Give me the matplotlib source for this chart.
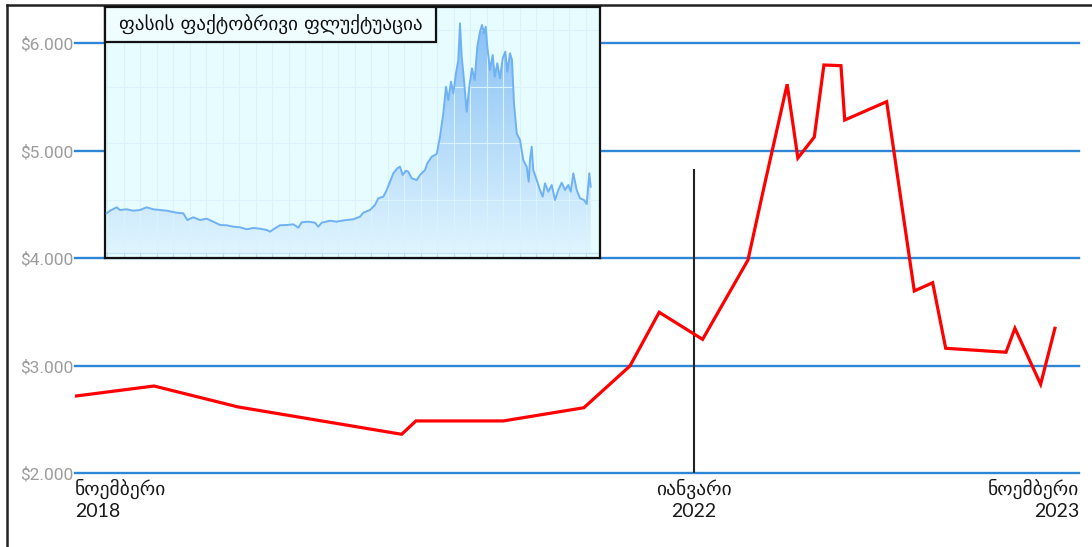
import numpy as np
import matplotlib
matplotlib.use("Agg")
import matplotlib.pyplot as plt
from matplotlib.lines import Line2D
from matplotlib.patches import Rectangle
from matplotlib.colors import LinearSegmentedColormap

# ---- main series: price, months counted from November 2018 ----
months = [0, 4.80, 9.98, 20.03, 20.91, 26.28, 31.24, 34.07, 35.87, 38.54,
          41.33, 42.25, 43.74, 44.40, 45.41, 46.00, 47.05, 47.28, 49.86,
          51.56, 52.69, 53.49, 57.20, 57.75, 59.33, 60.21]
price = [2719, 2812, 2617, 2363, 2487, 2487, 2610, 2998, 3498, 3246,
         3984, 4617, 5619, 4933, 5128, 5798, 5792, 5286, 5457,
         3696, 3773, 3163, 3126, 3349, 2828, 3349]

y_ticks = [2000, 3000, 4000, 5000, 6000]
y_labels = ["$2.000", "$3.000", "$4.000", "$5.000", "$6.000"]
x_labels = ["ნოემბერი\n2018", "იანვარი\n2022", "ნოემბერი\n2023"]
jan_2022 = 38
marker_top = 4821

# ---- inset series: daily fluctuation (relative units) ----
inset_t = [1.7, 5, 11.7, 15, 21.7, 28.3, 35, 41.7, 48.3, 55, 61.7, 71.7, 78.3,
           82.3, 88.3, 95, 101.7, 108.3, 115, 121.7, 128.3, 135, 141.7, 148.3,
           155, 161.7, 165, 170, 175, 181.7, 188.3, 193.3, 196.7, 203.3, 210,
           213.3, 216.7, 225, 231.7, 235, 241.7, 248.3, 255, 258.3, 265, 270,
           273.3, 278.3, 281.7, 285, 288.3, 292.3, 295, 297.7, 301, 303.3,
           306.7, 311.7, 315, 320, 322.3, 326.7, 331.7, 335, 338.3, 341, 343.3,
           346, 348.3, 351, 353.3, 355, 356.7, 359, 361.7, 364.3, 367, 369.7,
           372.3, 375, 377, 379, 380.7, 382.3, 385, 387.7, 389.7, 392.3, 395,
           397.7, 400.3, 402.3, 405, 407, 409, 411.7, 415, 418.3, 421.7, 423.7,
           425, 426.7, 428.3, 431.7, 435, 437.7, 440, 443.3, 446.7, 450, 453.3,
           456.7, 460, 463.3, 465.7, 468.3, 471.7, 475, 479, 481.7, 484.3, 485.7]
inset_v = [44.7, 47.3, 50.7, 48, 48.7, 47.3, 48, 50.7, 48.7, 48, 47.3, 45.3, 44.7,
           38, 40.7, 38, 39.3, 36.3, 33, 32.7, 31.3, 30.7, 28.7, 30,
           29.3, 28, 26.3, 29.7, 32.7, 33, 33.7, 30.3, 35.7, 36.3, 35.3,
           31.3, 35.3, 37.3, 36.3, 37, 38, 38.7, 41.3, 45.3, 48, 53,
           59.7, 61.3, 68, 76.3, 84.7, 89.7, 91.3, 83, 87.3, 86.3,
           79.7, 78, 83, 88, 94.7, 101.3, 104, 121.3, 144.7, 171.3, 158,
           176.3, 164.7, 184.7, 198, 234.7, 201.3, 178, 146.3, 171.3, 189.7, 178,
           211.3, 226.3, 233, 224.7, 231.3, 211.3, 188, 203, 181.3, 194.7, 179.7,
           199.7, 206.3, 186.3, 204.7, 198, 154.7, 124.7, 118, 98, 91.3, 76.3,
           98, 111.3, 88, 78, 68, 61.3, 74.7, 66.3, 73, 58, 68,
           75.3, 68, 73, 66.3, 84.7, 68, 59.7, 58, 54, 84.7, 71.3]
inset_title = "ფასის ფაქტობრივი ფლუქტუაცია"

W, H = 1092, 547
fig = plt.figure(figsize=(W / 100, H / 100), dpi=100)
fig.patch.set_facecolor("white")


def fx(px):
    return px / W


def fy(py):
    return (H - py) / H


# ---- main axes ----
ax = fig.add_axes([fx(75), fy(473.3), fx(1079) - fx(75), fy(43.3) - fy(473.3)])
ax.set_xlim(-0.06, 61.69)
ax.set_ylim(2000, 6000)
for s in ax.spines.values():
    s.set_visible(False)
for yv in y_ticks:
    ax.axhline(yv, color="#2f86d6", lw=1.7, zorder=1, clip_on=False)
ax.set_yticks(y_ticks)
ax.set_yticklabels(y_labels, fontfamily="Roboto", fontsize=12.5, color="#9c9c9c")
ax.tick_params(axis="y", length=0, pad=1.5)

xl = ax.get_xlim()
ax.set_xticks([xl[0], jan_2022, xl[1]])
ax.set_xticklabels(x_labels, fontfamily=["Lato", "DejaVu Sans"], fontsize=14,
                   color="#1a1a1a", linespacing=1.3)
ax.tick_params(axis="x", length=0, pad=4)
for lab, ha in zip(ax.get_xticklabels(), ["left", "center", "right"]):
    lab.set_ha(ha)
    lab.set_multialignment(ha)

ax.plot(months, price, color="#ff0000", lw=2.3, solid_joinstyle="miter", zorder=3)
ax.plot([jan_2022, jan_2022], [2000, marker_top], color="#222222", lw=1.5, zorder=2)

# ---- inset chart ----
ins = fig.add_axes([fx(105), fy(258), fx(600) - fx(105), fy(7) - fy(258)])
ins.set_zorder(5)
ins.set_xlim(0, 495)
ins.set_ylim(0, 251)
ins.set_facecolor("#e6fcff")
ins.set_xticks(np.arange(2, 495, 16.5))
ins.set_yticks([58, 115, 171, 228])
ins.grid(True, color="#daf2fb", lw=0.8)
ins.tick_params(axis="x", direction="in", length=4, color="#bcdcf2",
                labelbottom=False)
ins.tick_params(axis="y", length=0, labelleft=False)
ins.axhline(5, color="#c6e4f8", lw=1)
for s in ins.spines.values():
    s.set_color("#111111")
    s.set_linewidth(1.6)

cmap = LinearSegmentedColormap.from_list("fillgrad", ["#e2f6ff", "#76b6f4"])
grad = np.linspace(0, 1, 256).reshape(-1, 1)
img = ins.imshow(grad, extent=[0, 495, 0, 251], origin="lower", aspect="auto",
                 cmap=cmap, alpha=0.9, zorder=1)
poly = ins.fill_between(inset_t, inset_v, 5, color="none", lw=0)
clip = poly.get_paths()[0]
img.set_clip_path(clip, transform=ins.transData)
ins.plot(inset_t, inset_v, color="#6fb1f2", lw=1.4, zorder=3)

ins.add_patch(Rectangle((0, 1 - 0.139), 0.669, 0.139, transform=ins.transAxes,
                        facecolor="#f0fdff", edgecolor="#111111", lw=1.6,
                        zorder=6, clip_on=False))
ins.text(0.3345, 1 - 0.0695, inset_title, transform=ins.transAxes,
         ha="center", va="center", fontsize=13.8, color="#111111",
         fontfamily=["DejaVu Sans"], zorder=7)

# ---- outer frame (left and top edges) ----
fig.add_artist(Line2D([fx(6.5), fx(6.5)], [0, fy(5)], color="#222222", lw=1.8))
fig.add_artist(Line2D([fx(6.5), 1], [fy(5), fy(5)], color="#222222", lw=1.8))

fig.savefig("out.png", dpi=100)
